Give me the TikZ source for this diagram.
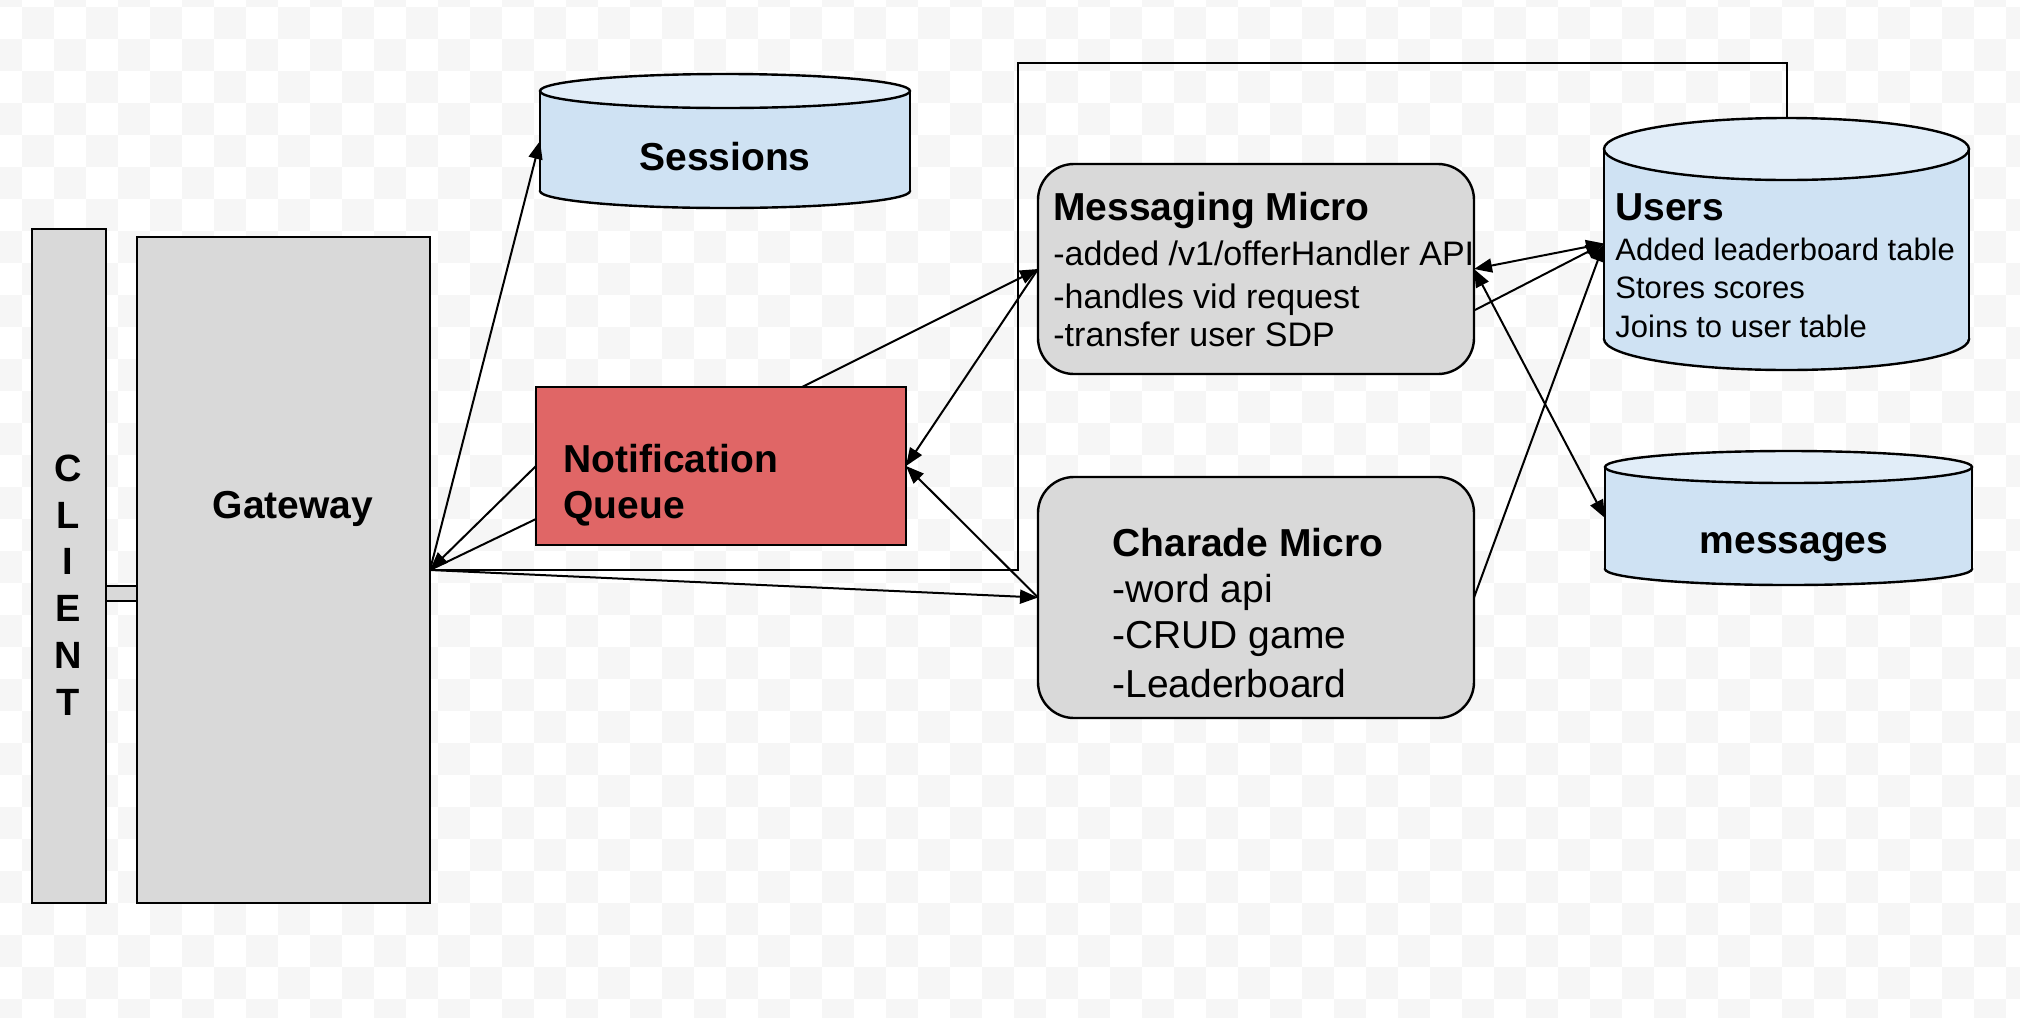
\documentclass[tikz,border=0pt]{standalone}
\usepackage{fontspec}
\setmainfont{Liberation Sans}
\usetikzlibrary{arrows.meta}
\definecolor{boxgray}{HTML}{D9D9D9}
\definecolor{dbblue}{HTML}{CFE2F3}
\definecolor{dbtop}{HTML}{E1EDF8}
\definecolor{qred}{HTML}{E06666}
\definecolor{checker}{HTML}{F6F6F6}
\newcommand\dbcyl[6]{%
  \path[fill=dbblue, draw=black, line width=1.2pt] ({(#1+#2)/2},#4) ellipse [x radius=#5, y radius=#6];
  \path[fill=dbblue] (#1,#3) rectangle (#2,#4);
  \draw[line width=1.2pt] (#1,#3) -- (#1,#4) (#2,#3) -- (#2,#4);
  \path[fill=dbtop, draw=black, line width=1.2pt] ({(#1+#2)/2},#3) ellipse [x radius=#5, y radius=#6];
}
\begin{document}
\begin{tikzpicture}[x=0.5pt,y=-0.5pt,
  shapebox/.style={draw=black, line width=1.2pt, inner sep=0pt, outer sep=0pt},
  graybox/.style={shapebox, fill=boxgray},
  roundbox/.style={graybox, rounded corners=18pt},
  ghost/.style={inner sep=0pt, outer sep=0pt},
  ttl/.style={font=\fontsize{19.5pt}{23pt}\selectfont\bfseries, inner sep=0pt},
  bodyA/.style={font=\fontsize{19.5pt}{23pt}\selectfont, inner sep=0pt},
  bodyB/.style={font=\fontsize{17pt}{20pt}\selectfont, inner sep=0pt},
  bodyC/.style={font=\fontsize{15.5pt}{19pt}\selectfont, inner sep=0pt},
  conn/.style={draw=black, line width=1pt},
  arr/.style={conn, -{Triangle[length=9pt,width=7pt]}},
  arrs/.style={conn, {Triangle[length=9pt,width=7pt]}-{Triangle[length=9pt,width=7pt]}},
]
\useasboundingbox (0,0) rectangle (2020,1018);
% background checkerboard
\begin{scope}
\clip (0,0) rectangle (2020,1018);
\fill[white] (0,0) rectangle (2020,1018);
\foreach \i in {0,...,64}{\foreach \j in {0,...,33}{%
  \pgfmathtruncatemacro\cpar{mod(\i+\j,2)}%
  \ifnum\cpar=0 \fill[checker] ({-10.3+32*\i},{-25.3+32*\j}) rectangle ++(32,32);\fi
}}
\end{scope}

% client - gateway link
\node[graybox, line width=1pt, minimum width=17.5pt, minimum height=7.5pt] (cgl) at (121.5,593.5) {};
% boxes
\node[graybox, minimum width=37pt, minimum height=337pt] (cl) at (69,566) {};
\node[graybox, minimum width=146.5pt, minimum height=333pt] (gw) at (283.5,570) {};
\node[shapebox, fill=qred, minimum width=185pt, minimum height=79pt] (nq) at (721,466) {};
\node[roundbox, minimum width=218pt, minimum height=105pt] (msg) at (1256,269) {};
\node[roundbox, minimum width=218pt, minimum height=120.5pt] (ch) at (1256,597.5) {};
% cylinders
\dbcyl{540}{910}{91}{191}{92.5pt}{8.5pt}
\node[ghost, minimum width=185pt, minimum height=67pt] (sess) at (725,141) {};
\dbcyl{1604}{1969}{149}{339}{91.25pt}{15.5pt}
\node[ghost, minimum width=182.5pt, minimum height=126.5pt] (users) at (1786.5,243.5) {};
\dbcyl{1605}{1972}{467}{569}{91.75pt}{8pt}
\node[ghost, minimum width=183.5pt, minimum height=67pt] (msgs) at (1788.5,518) {};

% texts
\node[ttl, anchor=base] (sesst) at (725,170) {Sessions};
\node[ttl, anchor=base] (gwt) at (293,518) {Gateway};
\foreach \l/\yy [count=\k] in {C/481,L/528,I/574,E/621,N/668,T/715}
  \node[ttl, font=\fontsize{19pt}{23pt}\selectfont\bfseries, anchor=base] (cl\k) at (68,\yy) {\l};
\node[ttl, anchor=base west] (nq1) at (563,472) {Notification};
\node[ttl, anchor=base west] (nq2) at (563,518) {Queue};
\node[ttl, anchor=base west] (mt) at (1053,220) {Messaging Micro};
\node[bodyB, anchor=base west] (m1) at (1053,265) {-added /v1/offerHandler API};
\node[bodyB, anchor=base west] (m2) at (1053,308) {-handles vid request};
\node[bodyB, anchor=base west] (m3) at (1053,346) {-transfer user SDP};
\node[ttl, anchor=base west] (ut) at (1615,220) {Users};
\node[bodyC, anchor=base west] (u1) at (1615,260) {Added leaderboard table};
\node[bodyC, anchor=base west] (u2) at (1615,298) {Stores scores};
\node[bodyC, anchor=base west] (u3) at (1615,337) {Joins to user table};
\node[ttl, anchor=base west] (ct) at (1112,556) {Charade Micro};
\node[bodyA, anchor=base west] (c1) at (1112,602) {-word api};
\node[bodyA, anchor=base west] (c2) at (1112,648) {-CRUD game};
\node[bodyA, anchor=base west] (c3) at (1112,697) {-Leaderboard};
\node[ttl, anchor=base] (msgst) at (1794,553) {messages};

% connector helper points
\coordinate (nqL2) at (536,519);
\coordinate (nqT) at (802,387);
\coordinate (msgR2) at (1475,310);
\coordinate (loopA) at (1018,570);
\coordinate (loopB) at (1018,63);

% connectors
\draw[arr] (gw.east) -- (sess.west);
\draw[arr] (nq.west) -- (gw.east);
\draw[conn] (nqL2) -- (gw.east);
\draw[conn] (gw.east) -- (loopA) -- (loopB) -| (users.north);
\draw[arr] (gw.east) -- (ch.west);
\draw[arr] (nqT) -- (msg.west);
\draw[arr] (msg.west) -- (nq.east);
\draw[arr] (ch.west) -- (nq.east);
\draw[arrs] (msg.east) -- (users.west);
\draw[arr] (msgR2) -- (users.west);
\draw[arrs] (msg.east) -- (msgs.west);
\draw[arr] (ch.east) -- (users.west);
\end{tikzpicture}
\end{document}
